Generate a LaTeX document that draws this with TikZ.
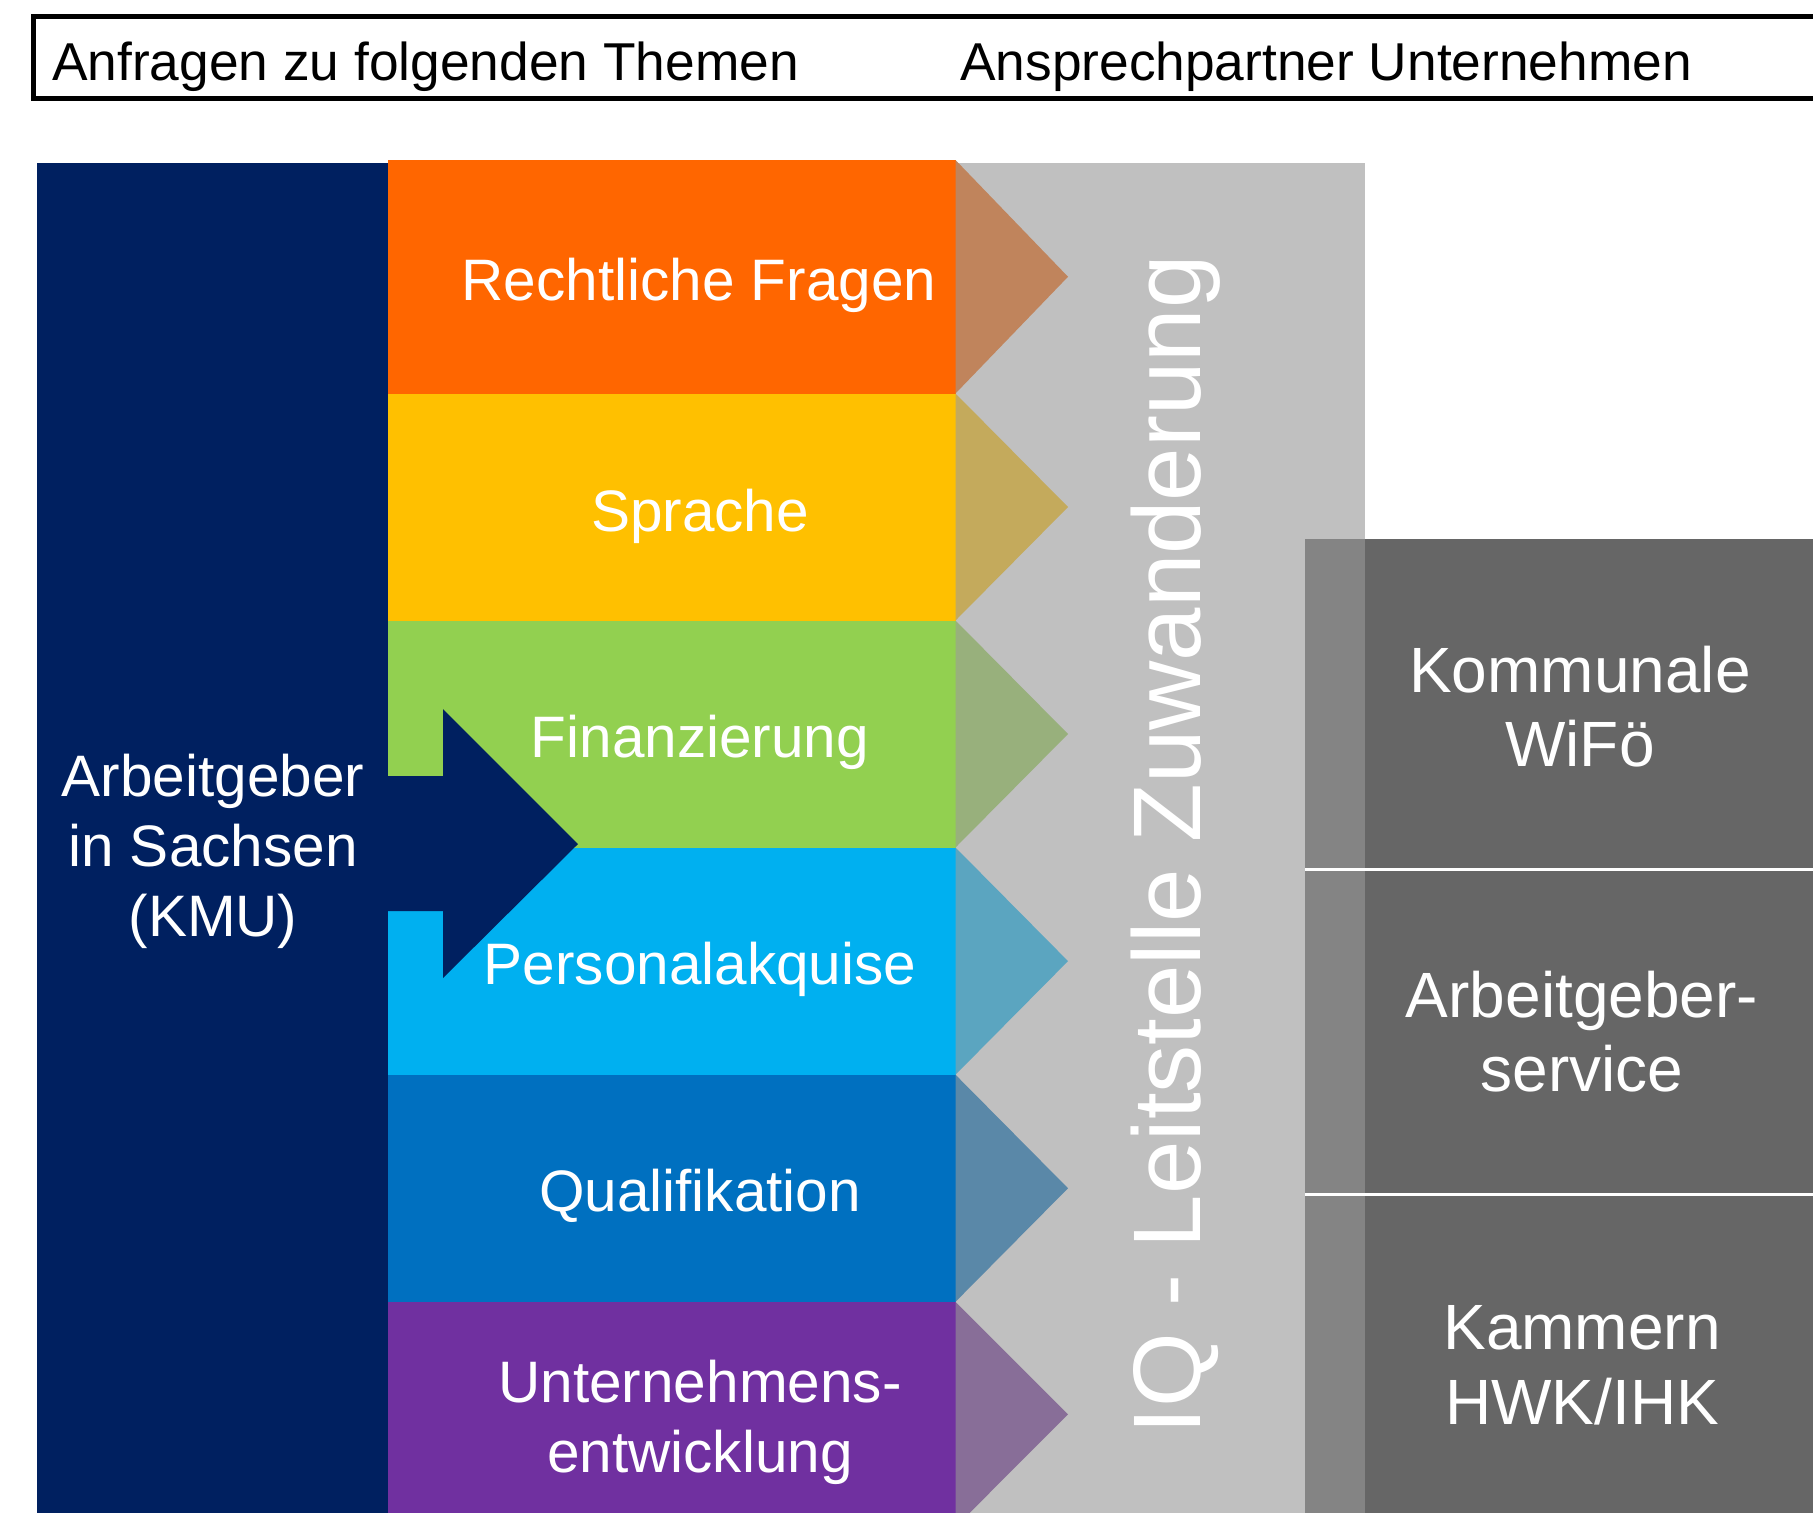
\documentclass[tikz,border=0pt]{standalone}
\usepackage{fontspec}
\setmainfont{Liberation Sans}
\definecolor{navy}{HTML}{002060}
\definecolor{cOrange}{HTML}{FF6600}
\definecolor{cYellow}{HTML}{FFC000}
\definecolor{cGreen}{HTML}{92D050}
\definecolor{cLBlue}{HTML}{00B0F0}
\definecolor{cBlue}{HTML}{0070C0}
\definecolor{cPurple}{HTML}{7030A0}
\definecolor{tOrange}{HTML}{C0845C}
\definecolor{tYellow}{HTML}{C4AA5C}
\definecolor{tGreen}{HTML}{98B07C}
\definecolor{tLBlue}{HTML}{5BA5C0}
\definecolor{tBlue}{HTML}{5A88A8}
\definecolor{tPurple}{HTML}{886E98}
\definecolor{midgray}{HTML}{C0C0C0}
\definecolor{stripgray}{HTML}{848484}
\definecolor{darkgray}{HTML}{666666}
\tikzset{
  hdr/.style={anchor=base west, inner sep=0pt, text=black, font=\fontsize{53.3}{64}\selectfont},
  rowtxt/.style={anchor=base, inner sep=0pt, text=white, font=\fontsize{58.5}{70}\selectfont},
  rowtxtml/.style={anchor=center, inner sep=0pt, text=white, align=center, font=\fontsize{58.5}{70}\selectfont},
  boxtxt/.style={anchor=center, inner sep=0pt, text=white, align=center, font=\fontsize{64}{74.5}\selectfont},
  vtxt/.style={anchor=base, rotate=90, inner sep=0pt, text=white, font=\fontsize{96}{110}\selectfont},
}
\begin{document}
\begin{tikzpicture}[x=1pt,y=-1pt]
\useasboundingbox (0,0) rectangle (1813,1513);
\clip (0,0) rectangle (1813,1513);
\fill[white] (0,0) rectangle (1813,1513);
% header box
\draw[line width=4.5pt, line join=miter] (1840,16.5) -- (33.7,16.5) -- (33.7,98.5) -- (1840,98.5);
\node[hdr] (hA) at (52,80) {Anfragen zu folgenden Themen};
\node[hdr] (hB) at (960,80) {Ansprechpartner Unternehmen};
% columns
\fill[navy] (36.7,162.7) rectangle (390,1530);
\fill[midgray] (955,163) rectangle (1365,1530);
% rows
\fill[cOrange] (388.3,160) rectangle (955.5,393.5);
\fill[tOrange] (955.5,160) -- (1068,276.75) -- (955.5,393.5) -- cycle;
\fill[cYellow] (388.3,393.5) rectangle (955.5,620.5);
\fill[tYellow] (955.5,393.5) -- (1068,507) -- (955.5,620.5) -- cycle;
\fill[cGreen] (388.3,620.5) rectangle (955.5,847.5);
\fill[tGreen] (955.5,620.5) -- (1068,734) -- (955.5,847.5) -- cycle;
\fill[cLBlue] (388.3,847.5) rectangle (955.5,1074.7);
\fill[tLBlue] (955.5,847.5) -- (1068,961.1) -- (955.5,1074.7) -- cycle;
\fill[cBlue] (388.3,1074.7) rectangle (955.5,1301.8);
\fill[tBlue] (955.5,1074.7) -- (1068,1188.25) -- (955.5,1301.8) -- cycle;
\fill[cPurple] (388.3,1301.8) rectangle (955.5,1527);
\fill[tPurple] (955.5,1301.8) -- (1068,1414.4) -- (955.5,1527) -- cycle;
% navy arrow
\fill[navy] (380,776) -- (443,776) -- (443,709) -- (578,844) -- (443,978) -- (443,911) -- (380,911) -- cycle;
% row texts
\node[rowtxt] (r1) at (699,300.7) {Rechtliche Fragen};
\node[rowtxt] (r2) at (700,531) {Sprache};
\node[rowtxt] (r3) at (700,757.5) {Finanzierung};
\node[rowtxt] (r4) at (700,984.5) {Personalakquise};
\node[rowtxt] (r5) at (700,1211.5) {Qualifikation};
\node[rowtxtml] (r6) at (700,1423.7) {\strut Unternehmens-\\\strut entwicklung};
\node[rowtxtml] (kmu) at (213,852.7) {\strut Arbeitgeber\\\strut in Sachsen\\\strut (KMU)};
% vertical label
\node[vtxt] (iq) at (1200,845) {IQ - Leitstelle Zuwanderung};
% right boxes
\fill[stripgray] (1305,539) rectangle (1365,1530);
\fill[darkgray] (1365,539) rectangle (1830,1530);
\draw[white, line width=3pt] (1305,869.5) -- (1830,869.5);
\draw[white, line width=3pt] (1305,1194.5) -- (1830,1194.5);
\node[boxtxt] (b1) at (1580,714.4) {\strut Kommunale\\\strut WiFö};
\node[boxtxt] (b2) at (1582,1039.4) {\strut Arbeitgeber-\\\strut service};
\node[boxtxt] (b3) at (1582,1371.9) {\strut Kammern\\\strut HWK/IHK};
\end{tikzpicture}
\end{document}
